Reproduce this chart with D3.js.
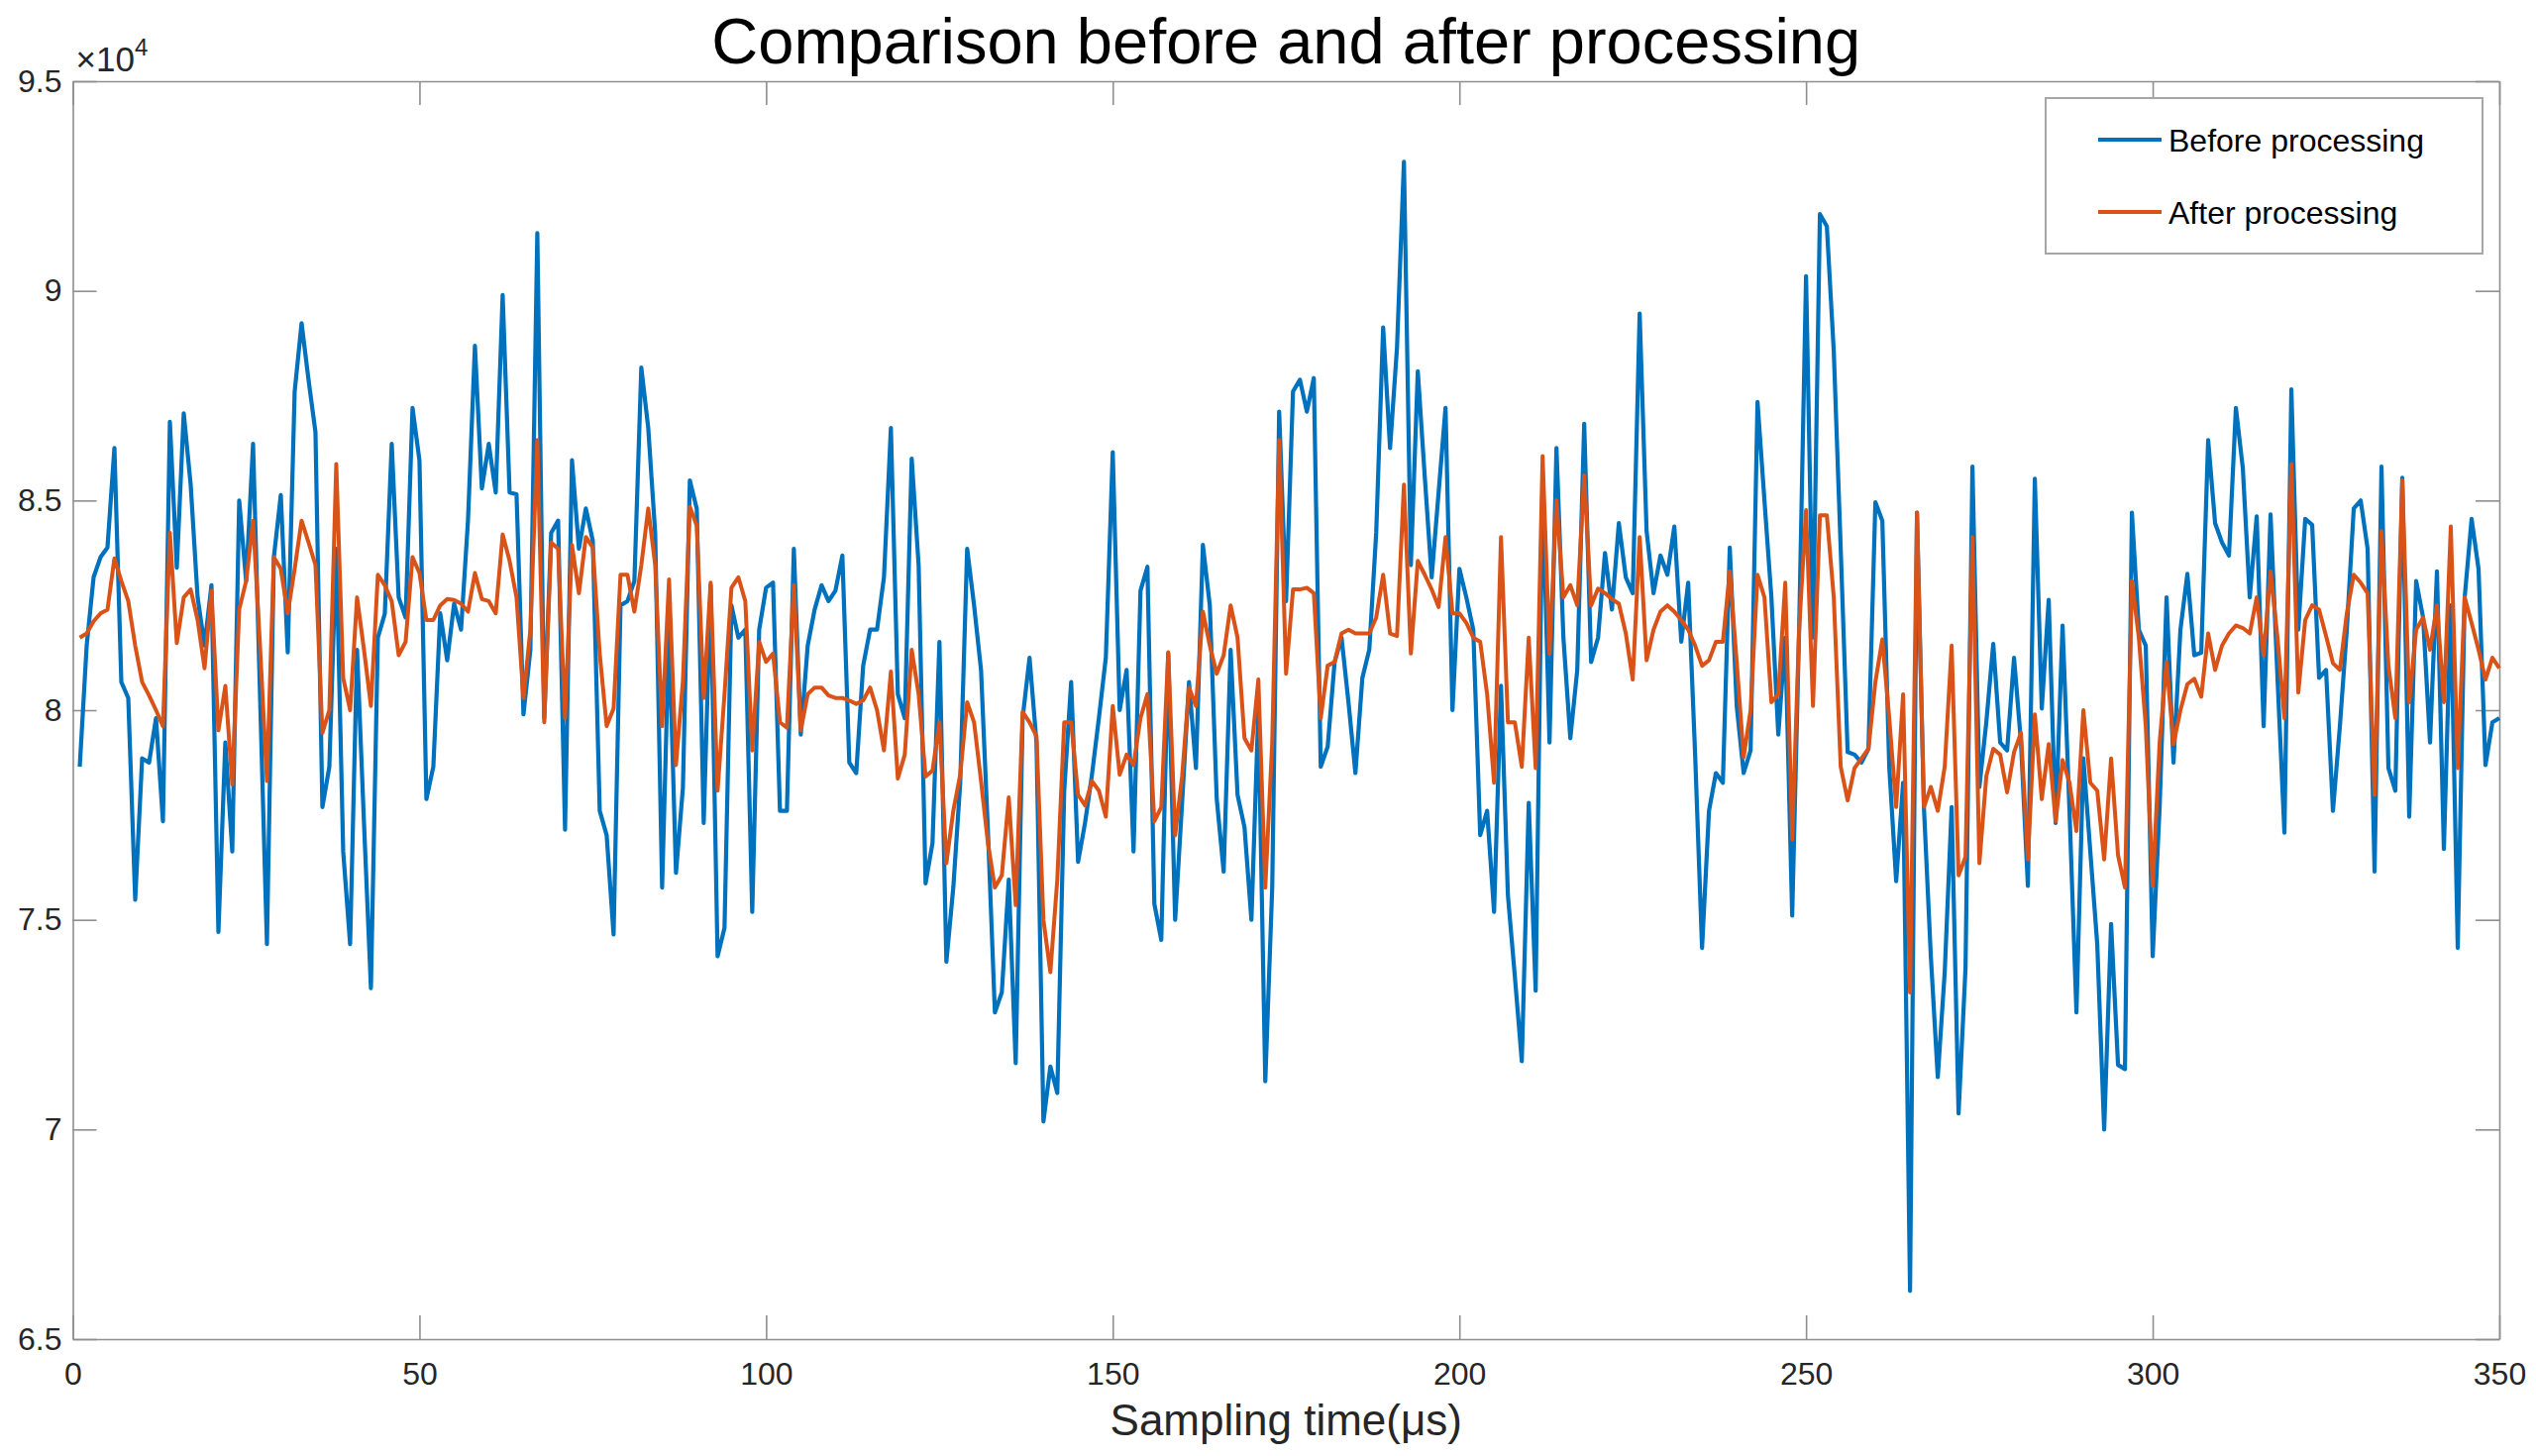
<!DOCTYPE html>
<html lang="en">
<head>
  <meta charset="UTF-8">
  <title>Comparison before and after processing</title>
  <style>
    body {
      margin: 0;
      padding: 0;
      background-color: #ffffff;
    }

    svg {
      display: block;
      font-family: "Liberation Sans", Arial, sans-serif;
    }

    .axis path,
    .axis line {
      stroke: #8f8f8f;
      stroke-width: 1.6px;
    }

    .axis text {
      font-size: 32px;
      fill: #262626;
    }

    .series {
      fill: none;
      stroke-linejoin: round;
    }
  </style>
</head>
<body>
  <svg width="2560" height="1470"></svg>

  <script src="https://d3js.org/d3.v7.min.js"></script>
  <script>
    // values are in units of 10^4 (the axis carries the x10^4 exponent)
    const before = [
      7.865, 8.154, 8.317, 8.365, 8.388, 8.625, 8.067, 8.029, 7.548, 7.885,
      7.875, 7.981, 7.735, 8.688, 8.340, 8.708, 8.538, 8.269, 8.154, 8.298,
      7.471, 7.923, 7.663, 8.500, 8.308, 8.635, 8.038, 7.442, 8.365, 8.513,
      8.138, 8.760, 8.923, 8.788, 8.663, 7.769, 7.865, 8.385, 7.663, 7.442,
      8.144, 7.731, 7.337, 8.173, 8.230, 8.635, 8.269, 8.221, 8.721, 8.596,
      7.788, 7.865, 8.231, 8.119, 8.254, 8.192, 8.452, 8.869, 8.529, 8.635,
      8.519, 8.990, 8.519, 8.515, 7.990, 8.144, 9.138, 7.981, 8.423, 8.452,
      7.715, 8.596, 8.385, 8.481, 8.404, 7.760, 7.702, 7.465, 8.250, 8.260,
      8.308, 8.817, 8.673, 8.423, 7.577, 8.192, 7.612, 7.815, 8.548, 8.480,
      7.731, 8.298, 7.413, 7.481, 8.250, 8.173, 8.192, 7.519, 8.192, 8.292,
      8.304, 7.760, 7.760, 8.385, 7.942, 8.154, 8.240, 8.298, 8.260, 8.285,
      8.369, 7.875, 7.850, 8.106, 8.192, 8.192, 8.317, 8.673, 8.038, 7.981,
      8.600, 8.346, 7.587, 7.683, 8.163, 7.400, 7.577, 7.827, 8.385, 8.250,
      8.096, 7.710, 7.279, 7.327, 7.596, 7.158, 7.981, 8.125, 7.923, 7.019,
      7.150, 7.087, 7.808, 8.067, 7.638, 7.731, 7.846, 7.981, 8.125, 8.615,
      8.000, 8.096, 7.663, 8.285, 8.342, 7.538, 7.452, 8.135, 7.500, 7.779,
      8.067, 7.862, 8.394, 8.250, 7.788, 7.615, 8.144, 7.798, 7.721, 7.500,
      8.000, 7.115, 7.577, 8.712, 8.260, 8.760, 8.788, 8.712, 8.792, 7.865,
      7.913, 8.115, 8.173, 8.019, 7.850, 8.077, 8.144, 8.423, 8.913, 8.625,
      8.865, 9.308, 8.346, 8.808, 8.558, 8.317, 8.519, 8.721, 8.000, 8.337,
      8.269, 8.192, 7.702, 7.760, 7.519, 8.058, 7.558, 7.365, 7.163, 7.779,
      7.331, 8.538, 7.923, 8.625, 8.173, 7.933, 8.096, 8.683, 8.115, 8.173,
      8.375, 8.240, 8.446, 8.317, 8.279, 8.946, 8.427, 8.279, 8.369, 8.323,
      8.438, 8.163, 8.304, 7.894, 7.433, 7.760, 7.850, 7.827, 8.388, 8.010,
      7.850, 7.904, 8.735, 8.500, 8.269, 7.942, 8.173, 7.510, 8.192, 9.035,
      8.173, 9.183, 9.154, 8.856, 8.385, 7.900, 7.894, 7.875, 7.908, 8.496,
      8.452, 7.865, 7.592, 7.827, 6.615, 8.471, 7.769, 7.413, 7.125, 7.375,
      7.769, 7.038, 7.385, 8.581, 7.817, 7.971, 8.158, 7.923, 7.904, 8.125,
      7.923, 7.581, 8.552, 8.004, 8.263, 7.731, 8.202, 7.760, 7.279, 7.885,
      7.663, 7.442, 7.000, 7.490, 7.154, 7.144, 8.471, 8.192, 8.154, 7.413,
      7.769, 8.269, 7.875, 8.192, 8.325, 8.131, 8.137, 8.644, 8.446, 8.400,
      8.369, 8.721, 8.577, 8.269, 8.462, 7.962, 8.467, 8.077, 7.708, 8.765,
      8.192, 8.456, 8.442, 8.077, 8.096, 7.760, 7.962, 8.192, 8.481, 8.500,
      8.385, 7.615, 8.581, 7.862, 7.808, 8.554, 7.746, 8.308, 8.221, 7.923,
      8.331, 7.669, 8.250, 7.433, 8.269, 8.456, 8.337, 7.869, 7.971, 7.981
    ];

    const after = [
      8.173, 8.183, 8.212, 8.231, 8.240, 8.362, 8.308, 8.260, 8.154, 8.067,
      8.035, 8.000, 7.962, 8.423, 8.160, 8.269, 8.288, 8.215, 8.100, 8.285,
      7.952, 8.058, 7.823, 8.240, 8.308, 8.452, 8.154, 7.831, 8.365, 8.337,
      8.231, 8.337, 8.452, 8.400, 8.346, 7.946, 8.000, 8.587, 8.077, 8.000,
      8.269, 8.144, 8.010, 8.323, 8.298, 8.260, 8.131, 8.163, 8.365, 8.327,
      8.215, 8.215, 8.250, 8.265, 8.263, 8.254, 8.235, 8.327, 8.265, 8.260,
      8.231, 8.419, 8.356, 8.269, 8.029, 8.192, 8.644, 7.971, 8.400, 8.385,
      7.981, 8.394, 8.279, 8.413, 8.388, 8.135, 7.962, 8.004, 8.323, 8.323,
      8.235, 8.346, 8.481, 8.346, 7.962, 8.312, 7.869, 8.070, 8.485, 8.440,
      8.029, 8.304, 7.808, 8.038, 8.292, 8.317, 8.260, 7.904, 8.163, 8.115,
      8.135, 7.971, 7.958, 8.298, 7.952, 8.038, 8.054, 8.054, 8.035, 8.029,
      8.029, 8.023, 8.015, 8.023, 8.054, 8.000, 7.904, 8.092, 7.837, 7.894,
      8.144, 8.038, 7.842, 7.856, 7.971, 7.635, 7.760, 7.846, 8.019, 7.971,
      7.831, 7.683, 7.577, 7.606, 7.792, 7.535, 7.996, 7.971, 7.938, 7.500,
      7.375, 7.596, 7.971, 7.971, 7.798, 7.773, 7.831, 7.808, 7.746, 8.010,
      7.846, 7.894, 7.869, 7.981, 8.038, 7.735, 7.769, 8.138, 7.702, 7.842,
      8.054, 8.010, 8.235, 8.154, 8.087, 8.131, 8.250, 8.173, 7.933, 7.904,
      8.073, 7.577, 7.923, 8.644, 8.087, 8.288, 8.288, 8.292, 8.279, 7.981,
      8.106, 8.115, 8.183, 8.192, 8.183, 8.183, 8.183, 8.221, 8.323, 8.183,
      8.177, 8.538, 8.135, 8.356, 8.323, 8.288, 8.246, 8.413, 8.231, 8.231,
      8.208, 8.173, 8.163, 8.038, 7.827, 8.413, 7.971, 7.971, 7.865, 8.173,
      7.862, 8.606, 8.135, 8.500, 8.269, 8.298, 8.250, 8.560, 8.250, 8.290,
      8.279, 8.265, 8.254, 8.183, 8.073, 8.413, 8.119, 8.192, 8.235, 8.250,
      8.235, 8.215, 8.192, 8.154, 8.106, 8.119, 8.163, 8.163, 8.331, 8.115,
      7.888, 8.000, 8.323, 8.269, 8.019, 8.038, 8.304, 7.692, 8.192, 8.477,
      8.010, 8.465, 8.465, 8.269, 7.865, 7.785, 7.862, 7.885, 7.908, 8.067,
      8.169, 7.981, 7.769, 8.038, 7.327, 8.471, 7.769, 7.817, 7.760, 7.865,
      8.154, 7.606, 7.650, 8.413, 7.635, 7.842, 7.908, 7.894, 7.804, 7.900,
      7.946, 7.644, 7.990, 7.788, 7.919, 7.735, 7.881, 7.827, 7.712, 8.000,
      7.827, 7.808, 7.644, 7.885, 7.654, 7.577, 8.308, 8.173, 7.962, 7.581,
      7.923, 8.115, 7.919, 8.000, 8.062, 8.075, 8.032, 8.183, 8.096, 8.154,
      8.183, 8.202, 8.196, 8.183, 8.269, 8.131, 8.331, 8.173, 7.981, 8.587,
      8.042, 8.215, 8.250, 8.240, 8.177, 8.112, 8.096, 8.231, 8.323, 8.304,
      8.279, 7.798, 8.427, 8.106, 7.981, 8.548, 8.019, 8.192, 8.221, 8.144,
      8.250, 8.019, 8.438, 7.862, 8.269, 8.208, 8.144, 8.073, 8.125, 8.100
    ];

    const xTicks = [0, 50, 100, 150, 200, 250, 300, 350];
    const yTicks = [6.5, 7, 7.5, 8, 8.5, 9, 9.5];
    const seriesNames = ["Before processing", "After processing"];
    const seriesColors = ["#0072bd", "#d95319"];

    const svg = d3.select("svg");
    const width = +svg.attr("width");
    const height = +svg.attr("height");
    const margin = { top: 82, right: 37, bottom: 118, left: 73.5 };

    const x = d3.scaleLinear().domain([0, 350]).range([margin.left, width - margin.right]);
    const y = d3.scaleLinear().domain([6.5, 9.5]).range([height - margin.bottom, margin.top]);

    const tickLen = 24;

    // box axes, ticks pointing inwards like MATLAB
    svg.append("g")
      .attr("class", "axis")
      .attr("transform", `translate(0,${y(6.5)})`)
      .call(d3.axisBottom(x).tickValues(xTicks).tickSizeInner(-tickLen).tickSizeOuter(0).tickPadding(23).tickFormat(d3.format("d")));

    svg.append("g")
      .attr("class", "axis")
      .attr("transform", `translate(0,${y(9.5)})`)
      .call(d3.axisTop(x).tickValues(xTicks).tickSizeInner(-tickLen).tickSizeOuter(0).tickFormat(""));

    svg.append("g")
      .attr("class", "axis")
      .attr("transform", `translate(${x(0)},0)`)
      .call(d3.axisLeft(y).tickValues(yTicks).tickSizeInner(-tickLen).tickSizeOuter(0).tickPadding(11).tickFormat((d) => String(d)));

    svg.append("g")
      .attr("class", "axis")
      .attr("transform", `translate(${x(350)},0)`)
      .call(d3.axisRight(y).tickValues(yTicks).tickSizeInner(-tickLen).tickSizeOuter(0).tickFormat(""));

    // exponent label
    const expo = svg.append("text")
      .attr("x", x(0) + 3)
      .attr("y", y(9.5) - 10)
      .attr("font-size", 35)
      .attr("fill", "#262626");
    expo.append("tspan").text("\u00d710");
    expo.append("tspan").attr("font-size", 24).attr("dy", -16).text("4");

    // series lines
    const line = d3.line()
      .x((d, i) => x(i + 1))
      .y((d) => y(d));

    svg.append("path")
      .datum(before)
      .attr("class", "series")
      .attr("stroke", seriesColors[0])
      .attr("stroke-width", 4.2)
      .attr("d", line);

    svg.append("path")
      .datum(after)
      .attr("class", "series")
      .attr("stroke", seriesColors[1])
      .attr("stroke-width", 4)
      .attr("d", line);

    // title and axis label
    svg.append("text")
      .attr("x", (x(0) + x(350)) / 2)
      .attr("y", 64)
      .attr("text-anchor", "middle")
      .attr("font-size", 65)
      .attr("fill", "#000")
      .text("Comparison before and after processing");

    svg.append("text")
      .attr("x", (x(0) + x(350)) / 2)
      .attr("y", 1449)
      .attr("text-anchor", "middle")
      .attr("font-size", 44)
      .attr("fill", "#262626")
      .text("Sampling time(\u03bcs)");

    // legend
    const legend = svg.append("g").attr("transform", "translate(2065,99)");
    legend.append("rect")
      .attr("width", 441)
      .attr("height", 157)
      .attr("fill", "#fff")
      .attr("stroke", "#a6a6a6")
      .attr("stroke-width", 2);

    seriesNames.forEach((name, i) => {
      const row = legend.append("g").attr("transform", `translate(0,${42 + i * 73})`);
      row.append("line")
        .attr("x1", 53).attr("x2", 117)
        .attr("stroke", seriesColors[i])
        .attr("stroke-width", 4);
      row.append("text")
        .attr("x", 124)
        .attr("y", 11.5)
        .attr("font-size", 32)
        .attr("fill", "#000")
        .text(name);
    });
  </script>
</body>
</html>
